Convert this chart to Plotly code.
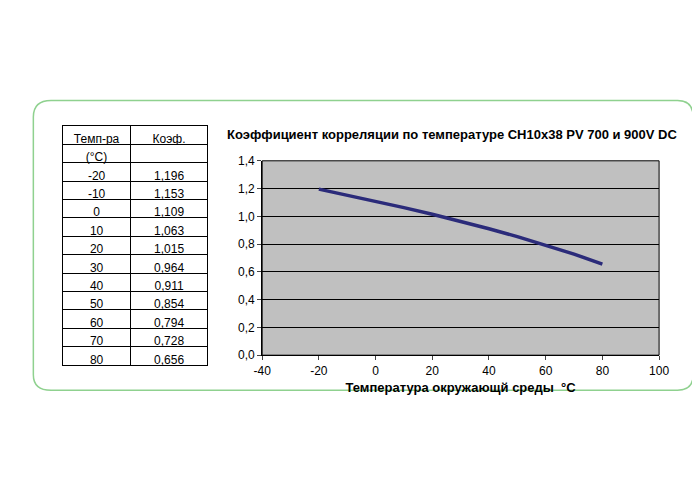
import plotly.graph_objects as go

temps = [-20, -10, 0, 10, 20, 30, 40, 50, 60, 70, 80]
coefs = [1.196, 1.153, 1.109, 1.063, 1.015, 0.964, 0.911, 0.854, 0.794, 0.728, 0.656]
coef_labels = ["1,196", "1,153", "1,109", "1,063", "1,015", "0,964", "0,911", "0,854", "0,794", "0,728", "0,656"]
x_ticks = [-40, -20, 0, 20, 40, 60, 80, 100]
y_ticks = [0, 0.2, 0.4, 0.6, 0.8, 1.0, 1.2, 1.4]
y_tick_text = ["0,0", "0,2", "0,4", "0,6", "0,8", "1,0", "1,2", "1,4"]

fig = go.Figure()

# table on the left
fig.add_trace(go.Table(
    domain=dict(x=[47 / 700, 197 / 700], y=[1 - 380 / 500, 1 - 114 / 500]),
    columnwidth=[70, 80],
    header=dict(values=[["Темп-ра", "(°C)"], ["Коэф.", ""]],
                line_color="black", fill_color="white",
                font=dict(family="Arial", size=12, color="black"),
                align="center", height=18.4),
    cells=dict(values=[[str(t) for t in temps], coef_labels],
               line_color="black", fill_color="white",
               font=dict(family="Arial", size=12, color="black"),
               align="center", height=18.4),
))

fig.add_trace(go.Scatter(x=temps, y=coefs, mode="lines",
                         line=dict(color="#2b2b7a", width=3.5), showlegend=False))

fig.update_layout(
    width=700, height=500,
    margin=dict(l=0, r=0, t=0, b=0),
    paper_bgcolor="white",
    plot_bgcolor="#c0c0c0",
    font=dict(family="Arial", size=12, color="black"),
    xaxis=dict(domain=[252 / 700, 660 / 700], range=[-40, 100],
               tickvals=x_ticks, ticktext=[str(v) for v in x_ticks],
               showgrid=False, zeroline=False, showline=True, linecolor="black",
               ticks="outside", ticklen=4,
               title=dict(text="<b>Температура окружающй среды  °C</b>",
                          font=dict(size=13), standoff=6)),
    yaxis=dict(domain=[1 - 350 / 500, 1 - 150 / 500], range=[0, 1.4],
               tickvals=y_ticks, ticktext=y_tick_text,
               showgrid=True, gridcolor="black", gridwidth=1, zeroline=False,
               showline=True, linecolor="black", ticks="outside", ticklen=4),
    shapes=[
        dict(type="path", xref="paper", yref="paper",
             path="M 0.05 0.824 L 0.97 0.824 Q 0.993 0.824 0.993 0.79 L 0.993 0.26 "
                  "Q 0.993 0.228 0.97 0.228 L 0.05 0.228 Q 0.024 0.228 0.024 0.26 "
                  "L 0.024 0.79 Q 0.024 0.824 0.05 0.824 Z",
             line=dict(color="#8fd18f", width=1.5)),
        dict(type="rect", xref="paper", yref="paper",
             x0=252 / 700, x1=660 / 700, y0=1 - 350 / 500, y1=1 - 150 / 500,
             line=dict(color="black", width=1)),
    ],
    annotations=[dict(text="<b>Коэффициент корреляции по температуре CH10x38 PV 700 и 900V DC</b>",
                      xref="paper", yref="paper", x=447 / 700, y=1 - 113 / 500,
                      showarrow=False, font=dict(size=13))],
)

fig.write_html("out.html")
